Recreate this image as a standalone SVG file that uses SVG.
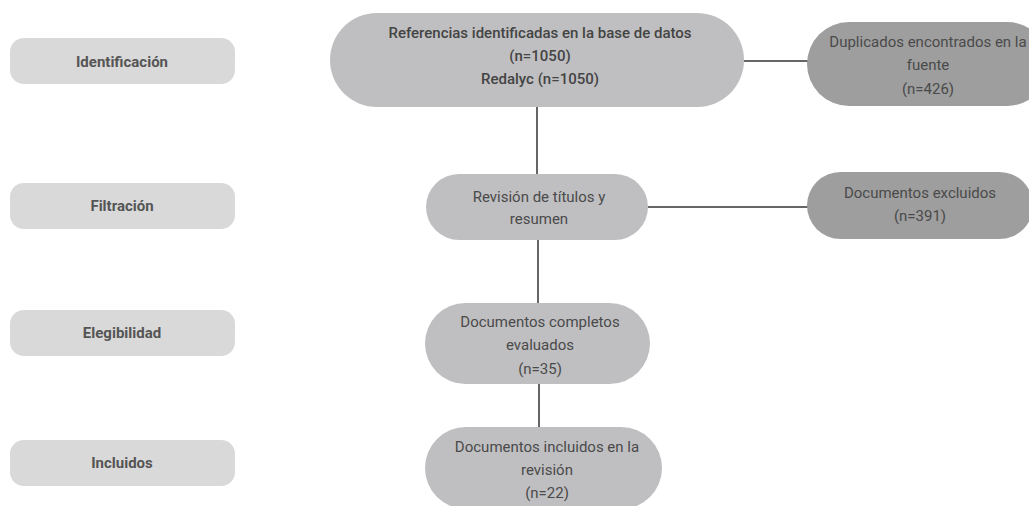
<svg xmlns="http://www.w3.org/2000/svg" width="1029" height="506" viewBox="0 0 1029 506">
<style>
.lab rect{fill:#d9d9d9}
.lab text{font-family:Roboto,"Liberation Sans",sans-serif;font-size:15px;font-weight:700;fill:#555;text-anchor:middle}
.main rect{fill:#bfbfc1}
.side rect{fill:#9e9e9e}
.nt{font-family:Roboto,"Liberation Sans",sans-serif;font-size:15px;font-weight:400;fill:#4a4a4a;text-anchor:middle}
.nt.b{font-weight:500;fill:#444}
.conn line{stroke:#666;stroke-width:2}
</style>
<rect width="1029" height="506" fill="#fff"/>
<g class="conn">
<line x1="744" y1="61" x2="808" y2="61"/>
<line x1="537" y1="107" x2="537" y2="175"/>
<line x1="648" y1="207" x2="809" y2="207"/>
<line x1="538" y1="240" x2="538" y2="303"/>
<line x1="539" y1="384" x2="539" y2="428"/>
</g>
<g id="lab-identificacion" class="lab"><rect x="10" y="38" width="225" height="46" rx="14"/><text x="122" y="67">Identificación</text></g>
<g id="lab-filtracion" class="lab"><rect x="10" y="183" width="225" height="46" rx="14"/><text x="122" y="211">Filtración</text></g>
<g id="lab-elegibilidad" class="lab"><rect x="10" y="310" width="225" height="46" rx="14"/><text x="122" y="338">Elegibilidad</text></g>
<g id="lab-incluidos" class="lab"><rect x="10" y="440" width="225" height="46" rx="14"/><text x="122" y="468">Incluidos</text></g>
<g id="n-referencias" class="main"><rect x="330" y="13" width="414" height="94" rx="47"/>
<text class="nt b" x="540" y="38">Referencias identificadas en la base de datos</text>
<text class="nt b" x="540" y="61">(n=1050)</text>
<text class="nt b" x="540" y="84">Redalyc (n=1050)</text></g>
<g id="n-duplicados" class="side"><rect x="807" y="22" width="242" height="84" rx="42"/>
<text class="nt" x="928" y="47">Duplicados encontrados en la</text>
<text class="nt" x="928" y="70">fuente</text>
<text class="nt" x="928" y="94">(n=426)</text></g>
<g id="n-revision" class="main"><rect x="426" y="174" width="222" height="66" rx="33"/>
<text class="nt" x="539" y="202">Revisión de títulos y</text>
<text class="nt" x="539" y="224">resumen</text></g>
<g id="n-excluidos" class="side"><rect x="807" y="172" width="226" height="67" rx="33.5"/>
<text class="nt" x="920" y="198">Documentos excluidos</text>
<text class="nt" x="920" y="221">(n=391)</text></g>
<g id="n-completos" class="main"><rect x="425" y="303" width="225" height="81" rx="40.5"/>
<text class="nt" x="540" y="327">Documentos completos</text>
<text class="nt" x="540" y="350">evaluados</text>
<text class="nt" x="540" y="374">(n=35)</text></g>
<g id="n-incluidos" class="main"><rect x="425" y="427" width="237" height="82" rx="41"/>
<text class="nt" x="547" y="452">Documentos incluidos en la</text>
<text class="nt" x="547" y="475">revisión</text>
<text class="nt" x="547" y="498">(n=22)</text></g>
</svg>
